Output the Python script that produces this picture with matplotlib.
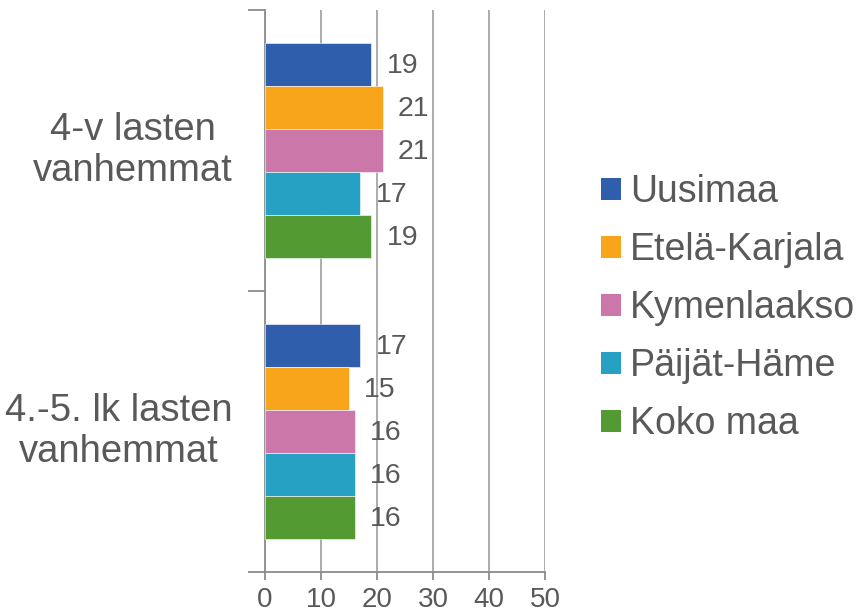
import numpy as np
import matplotlib.pyplot as plt
from matplotlib.patches import Patch

plt.rcParams['font.family'] = ['Liberation Sans', 'DejaVu Sans']

groups = ['4-v lasten\nvanhemmat', '4.-5. lk lasten\nvanhemmat']
series = ['Uusimaa', 'Etelä-Karjala', 'Kymenlaakso', 'Päijät-Häme', 'Koko maa']
values = [
    [19, 17],
    [21, 15],
    [21, 16],
    [17, 16],
    [19, 16],
]
colors = ['#2F5FAC', '#F9A51B', '#CB77A9', '#26A1C3', '#539A33']
xticks = [0, 10, 20, 30, 40, 50]

txt = '#595959'
axis_col = '#8C8C8C'

fig = plt.figure(figsize=(8.57, 6.13), dpi=100)
ax = fig.add_axes([265 / 857, 1 - 572 / 613, 280 / 857, 562 / 613])

bh = 43 / 281
y0 = np.arange(len(groups))
for i, (name, vals) in enumerate(zip(series, values)):
    ypos = y0 - 2.5 * bh + (i + 0.5) * bh
    ax.barh(ypos, vals, height=bh, color=colors[i], edgecolor='white',
            linewidth=0.4, zorder=3)
    for y, v in zip(ypos, vals):
        ax.annotate(str(v), (v, y), xytext=(11, -1), textcoords='offset points',
                    ha='left', va='center', fontsize=20.5, color=txt, zorder=4)

ax.set_xlim(0, 50)
ax.set_ylim(1.5, -0.5)
ax.set_xticks(xticks)
ax.set_xticklabels([str(t) for t in xticks], fontsize=20, color=txt)
ax.tick_params(axis='x', length=6, width=1.3, color=axis_col, pad=5)

ax.set_yticks([-0.5, 0.5, 1.5])
ax.set_yticklabels([])
ax.set_yticks(y0, minor=True)
ax.set_yticklabels(groups, minor=True, fontsize=27.5, color=txt,
                   multialignment='center', va='center')
ax.tick_params(axis='y', which='major', length=12, width=1.3, color=axis_col)
ax.tick_params(axis='y', which='minor', length=0, pad=23)

ax.grid(axis='x', color='#A6A6A6', linewidth=1.3, zorder=0)
for s in ['top', 'right']:
    ax.spines[s].set_visible(False)
for s in ['left', 'bottom']:
    ax.spines[s].set_color(axis_col)
    ax.spines[s].set_linewidth(1.3)
ax.spines['bottom'].set_zorder(5)

handles = [Patch(facecolor=c, edgecolor='none') for c in colors]
fig.legend(handles, series, loc='center left',
           bbox_to_anchor=(601 / 857, 1 - 308 / 613), frameon=False,
           fontsize=27, labelcolor=txt, handlelength=0.52, handleheight=0.52,
           handletextpad=0.25, labelspacing=0.585, borderpad=0, borderaxespad=0)

fig.savefig('out.png', dpi=100)
